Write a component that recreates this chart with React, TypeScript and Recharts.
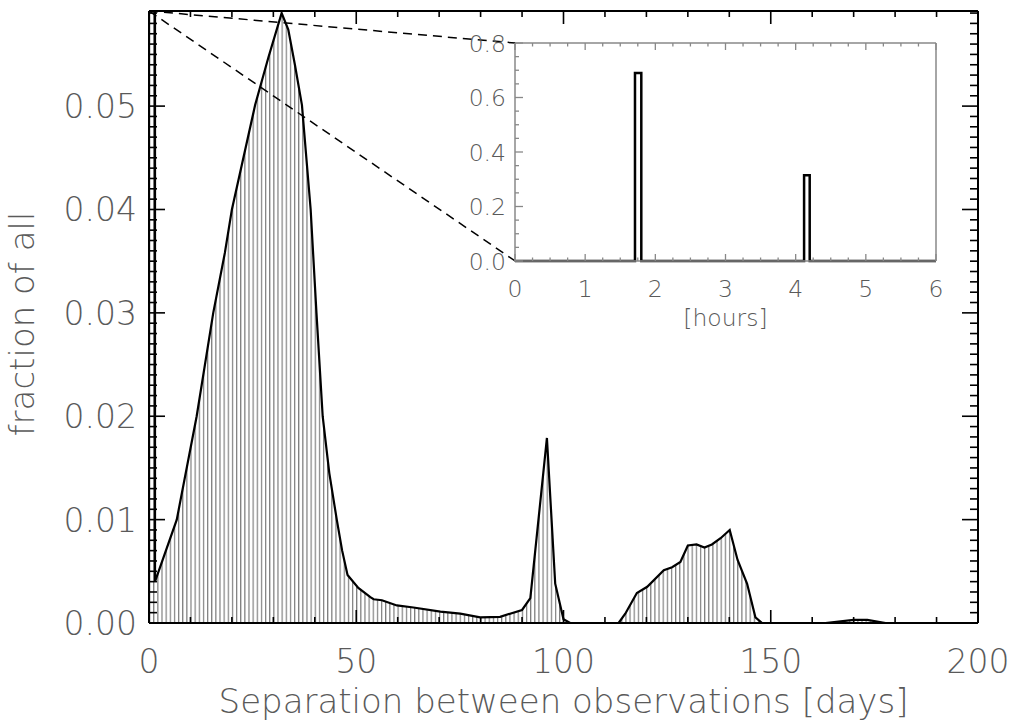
import React from 'react';
import { AreaChart, Area, LineChart, Line, XAxis, YAxis, ReferenceLine } from 'recharts';

// ---- main histogram (fraction of all separations vs. separation in days) ----
const sepDays = [0, 1.45, 1.45, 6.7, 11.5, 15.5, 18.3, 20.0, 25.6, 28.8, 32.0, 33.6, 35.2, 36.9, 39.0, 40.4, 41.9, 43.5, 45.3, 46.6, 47.9, 50.5, 53.4, 54.2, 56.2, 59.8, 63.8, 70.3, 75.1, 79.9, 84.7, 90.0, 92.0, 96.0, 98.0, 100.0, 101.6, 113.3, 114.9, 117.7, 120.2, 124.2, 126.2, 128.2, 130.0, 132.1, 134.0, 135.8, 137.9, 140.1, 142.0, 144.3, 146.3, 147.9, 163.2, 170.0, 173.3, 177.7];
const fractionAll = [0.08, 0.08, 0.0040, 0.0100, 0.0200, 0.0300, 0.0358, 0.0400, 0.0501, 0.0547, 0.0590, 0.0574, 0.0540, 0.0501, 0.0400, 0.0300, 0.0200, 0.0145, 0.0100, 0.0070, 0.00465, 0.0034, 0.0025, 0.0023, 0.0022, 0.0017, 0.0015, 0.0011, 0.0009, 0.00055, 0.0006, 0.00126, 0.0024, 0.0179, 0.0038, 0.00036, 0, 0, 0.0009, 0.0029, 0.0035, 0.0051, 0.0054, 0.0059, 0.0075, 0.0076, 0.0073, 0.0076, 0.0082, 0.0090, 0.0061, 0.0038, 0.00055, 0, 0, 0.0003, 0.0003, 0];

const xMax = 200;
const yMax = 0.0592;
const xTicksMain = Array.from({ length: 21 }, (_, i) => i * 10);
const xLabelTicksMain = [0, 50, 100, 150, 200];
const yTicksMain = Array.from({ length: 60 }, (_, i) => +(i * 0.001).toFixed(3));
const yLabelTicksMain = [0, 0.01, 0.02, 0.03, 0.04, 0.05];

// zoom lines from first bin to inset corners (main-chart data coords)
const zoomStart = { x: 0, y: yMax };
const zoomEnds = [{ x: 88.4, y: 0.0561 }, { x: 88.4, y: 0.0350 }];

// ---- inset (separations < 6 hours) ----
const insetHours = [0, 1.71, 1.8, 4.12, 4.2, 6];
const insetFrac = [0, 0.69, 0, 0.315, 0, 0];
const insetXTicks = Array.from({ length: 25 }, (_, i) => i * 0.25);
const insetYTicks = Array.from({ length: 17 }, (_, i) => +(i * 0.05).toFixed(2));
const insetXLabels = [0, 1, 2, 3, 4, 5, 6];
const insetYLabels = [0, 0.2, 0.4, 0.6, 0.8];

const mainData = sepDays.map((d, i) => ({ day: d, frac: fractionAll[i] }));
const insetData = insetHours.map((h, i) => ({ h, f: insetFrac[i] }));

const FONT = '"DejaVu Sans", sans-serif';
const tickStyle: React.CSSProperties = { fontFamily: FONT, fontSize: 33, fill: '#5a5a5a', fontWeight: 200 };
const titleStyle: React.CSSProperties = { fontFamily: FONT, fontSize: 34, fill: '#5a5a5a', fontWeight: 200 };
const insetText: React.CSSProperties = { fontFamily: FONT, fontSize: 23.5, fill: '#5a5a5a', fontWeight: 200 };

const inList = (list: number[], v: number) => list.some((t) => Math.abs(t - v) < 1e-6);

const BottomTick = (p: any) => {
  const v = p.payload.value;
  const major = inList(xLabelTicksMain, v);
  return (
    <g>
      <line x1={p.x} y1={p.y} x2={p.x} y2={p.y - (major ? 13 : 6)} stroke="#000" strokeWidth={1.6} />
      {major && <text x={p.x} y={p.y + 50} textAnchor="middle" style={tickStyle}>{v}</text>}
    </g>
  );
};
const TopTick = (p: any) => {
  const v = p.payload.value;
  const major = inList(xLabelTicksMain, v);
  return <line x1={p.x} y1={p.y} x2={p.x} y2={p.y + (major ? 13 : 6)} stroke="#000" strokeWidth={1.6} />;
};
const LeftTick = (p: any) => {
  const v = p.payload.value;
  const major = inList(yLabelTicksMain, v);
  return (
    <g>
      <line x1={p.x} y1={p.y} x2={p.x + (major ? 16 : 8)} y2={p.y} stroke="#000" strokeWidth={1.6} />
      {major && <text x={p.x - 12} y={p.y + 12} textAnchor="end" style={tickStyle}>{v.toFixed(2)}</text>}
    </g>
  );
};
const RightTick = (p: any) => {
  const v = p.payload.value;
  const major = inList(yLabelTicksMain, v);
  return <line x1={p.x} y1={p.y} x2={p.x - (major ? 16 : 8)} y2={p.y} stroke="#000" strokeWidth={1.6} />;
};

const IBottomTick = (p: any) => {
  const v = p.payload.value;
  const major = inList(insetXLabels, v);
  return (
    <g>
      <line x1={p.x} y1={p.y} x2={p.x} y2={p.y - (major ? 7 : 3.5)} stroke="#888" strokeWidth={1.3} />
      {major && <text x={p.x} y={p.y + 36} textAnchor="middle" style={insetText}>{v}</text>}
    </g>
  );
};
const ITopTick = (p: any) => {
  const v = p.payload.value;
  const major = inList(insetXLabels, v);
  return <line x1={p.x} y1={p.y} x2={p.x} y2={p.y + (major ? 7 : 3.5)} stroke="#888" strokeWidth={1.3} />;
};
const ILeftTick = (p: any) => {
  const v = p.payload.value;
  const major = inList(insetYLabels, v);
  return (
    <g>
      <line x1={p.x} y1={p.y} x2={p.x + (major ? 8 : 4)} y2={p.y} stroke="#888" strokeWidth={1.3} />
      {major && <text x={p.x - 9} y={p.y + 8.5} textAnchor="end" style={insetText}>{v.toFixed(1)}</text>}
    </g>
  );
};
const IRightTick = (p: any) => {
  const v = p.payload.value;
  const major = inList(insetYLabels, v);
  return <line x1={p.x} y1={p.y} x2={p.x - (major ? 8 : 4)} y2={p.y} stroke="#888" strokeWidth={1.3} />;
};

export default function App() {
  return (
    <div style={{ position: 'absolute', left: 0, top: 0, width: 1009, height: 723, background: '#fff' }}>
      <div style={{ position: 'absolute', left: 0, top: 0 }}>
        <AreaChart width={1009} height={723} data={mainData} margin={{ top: 11, right: 31, bottom: 0, left: 0 }}>
          <defs>
            <pattern id="vhatch" patternUnits="userSpaceOnUse" x={149} y={0} width={4.142} height={20}>
              <rect x={0} y={0} width={4.142} height={20} fill="#fff" />
              <line x1={0.6} y1={0} x2={0.6} y2={20} stroke="#7c7c7c" strokeWidth={1.2} />
            </pattern>
          </defs>
          <XAxis xAxisId="b" dataKey="day" type="number" domain={[0, xMax]} allowDataOverflow ticks={xTicksMain} interval={0}
            height={100} tickSize={0} tickMargin={0} tickLine={false} tick={<BottomTick />} axisLine={{ stroke: '#000', strokeWidth: 2 }}
            label={{ content: (lp: any) => <text x={lp.viewBox.x + lp.viewBox.width / 2} y={lp.viewBox.y + 90} textAnchor="middle" style={titleStyle}>Separation between observations [days]</text> }} />
          <XAxis xAxisId="t" orientation="top" mirror dataKey="day" type="number" domain={[0, xMax]} allowDataOverflow ticks={xTicksMain} interval={0}
            height={1} tickSize={0} tickMargin={0} tickLine={false} tick={<TopTick />} axisLine={{ stroke: '#000', strokeWidth: 2 }} />
          <YAxis yAxisId="l" type="number" domain={[0, yMax]} allowDataOverflow ticks={yTicksMain} interval={0}
            width={149} tickSize={0} tickMargin={0} tickLine={false} tick={<LeftTick />} axisLine={{ stroke: '#000', strokeWidth: 2 }}
            label={{ content: (lp: any) => { const cx = 34; const cy = lp.viewBox.y + lp.viewBox.height / 2 + 7; return <text x={cx} y={cy} textAnchor="middle" transform={`rotate(-90, ${cx}, ${cy})`} style={titleStyle}>fraction of all</text>; } }} />
          <YAxis yAxisId="r" orientation="right" mirror type="number" domain={[0, yMax]} allowDataOverflow ticks={yTicksMain} interval={0}
            width={1} tickSize={0} tickMargin={0} tickLine={false} tick={<RightTick />} axisLine={{ stroke: '#000', strokeWidth: 2 }} />
          <Area xAxisId="b" yAxisId="l" type="linear" dataKey="frac" stroke="#000" strokeWidth={2.2} fill="url(#vhatch)" fillOpacity={1} isAnimationActive={false} dot={false} activeDot={false} />
          {zoomEnds.map((e, i) => (
            <ReferenceLine key={i} xAxisId="b" yAxisId="l" ifOverflow="visible" segment={[zoomStart, e]} stroke="#000" strokeWidth={1.5} strokeDasharray="9 6" />
          ))}
        </AreaChart>
      </div>
      <div style={{ position: 'absolute', left: 420, top: 30 }}>
        <LineChart width={530} height={310} data={insetData} margin={{ top: 13, right: 14, bottom: 0, left: 0 }}>
          <XAxis xAxisId="b" dataKey="h" type="number" domain={[0, 6]} ticks={insetXTicks} interval={0}
            height={79} tickSize={0} tickMargin={0} tickLine={false} tick={<IBottomTick />} axisLine={{ stroke: '#888', strokeWidth: 1.5 }}
            label={{ content: (lp: any) => <text x={lp.viewBox.x + lp.viewBox.width / 2} y={lp.viewBox.y + 65} textAnchor="middle" style={insetText}>[hours]</text> }} />
          <XAxis xAxisId="t" orientation="top" mirror dataKey="h" type="number" domain={[0, 6]} ticks={insetXTicks} interval={0}
            height={1} tickSize={0} tickMargin={0} tickLine={false} tick={<ITopTick />} axisLine={{ stroke: '#888', strokeWidth: 1.5 }} />
          <YAxis yAxisId="l" type="number" domain={[0, 0.8]} ticks={insetYTicks} interval={0}
            width={95} tickSize={0} tickMargin={0} tickLine={false} tick={<ILeftTick />} axisLine={{ stroke: '#888', strokeWidth: 1.5 }} />
          <YAxis yAxisId="r" orientation="right" mirror type="number" domain={[0, 0.8]} ticks={insetYTicks} interval={0}
            width={1} tickSize={0} tickMargin={0} tickLine={false} tick={<IRightTick />} axisLine={{ stroke: '#888', strokeWidth: 1.5 }} />
          <Line xAxisId="b" yAxisId="l" type="stepAfter" dataKey="f" stroke="#000" strokeWidth={2.5} dot={false} activeDot={false} isAnimationActive={false} />
        </LineChart>
      </div>
    </div>
  );
}
